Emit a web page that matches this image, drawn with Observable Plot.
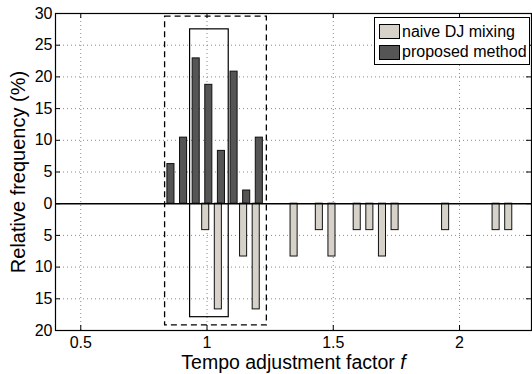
<!DOCTYPE html>
<html><head><meta charset="utf-8">
<script src="https://cdn.jsdelivr.net/npm/d3@7"></script>
<script src="https://cdn.jsdelivr.net/npm/@observablehq/plot@0.6"></script>
<style>
body{margin:0;background:#fff;}
#wrap{position:relative;width:532px;height:374px;font-family:"Liberation Sans",Arial,Helvetica,sans-serif;}
#legend{position:absolute;left:374px;top:17px;width:156px;height:48px;border:1px solid #000;background:#fff;box-sizing:border-box;font-size:16px;color:#000;}
.item{position:absolute;left:4px;height:17px;display:flex;align-items:center;white-space:nowrap;}
.sw{width:21px;height:15px;border:1px solid #000;box-sizing:border-box;margin-right:2px;}
</style></head>
<body><div id="wrap"></div>
<script>
// Data
const proposedF = [0.85, 0.90, 0.95, 1.00, 1.05, 1.10, 1.15, 1.20];
const proposedPct = [6.25, 10.42, 22.92, 18.75, 8.33, 20.83, 2.08, 10.42];
const naiveF = [1.00, 1.05, 1.15, 1.20, 1.35, 1.45, 1.50, 1.60, 1.65, 1.70, 1.75, 1.95, 2.15, 2.20];
const naivePct = [4.17, 16.67, 8.33, 16.67, 8.33, 4.17, 8.33, 4.17, 4.17, 8.33, 4.17, 4.17, 4.17, 4.17];
const xTicks = [0.5, 1, 1.5, 2];
const yTicks = [-20, -15, -10, -5, 0, 5, 10, 15, 20, 25, 30];
const yGrid = [-15, -10, -5, 5, 10, 15, 20, 25];
// annotation boxes: dashed outer, solid inner
const boxX1 = [0.834, 0.933];
const boxX2 = [1.237, 1.086];
const boxY1 = [-19.2, -17.9];
const boxY2 = [29.5, 27.5];
const boxDash = ["6,4", "none"];
const seriesNames = ["naive DJ mixing", "proposed method"];
const xLabel = "Tempo adjustment factor ";
const xLabelItalic = "f";
const yLabel = "Relative frequency (%)";

const proposed = proposedF.map((f, i) => ({f, v: proposedPct[i]}));
const naive = naiveF.map((f, i) => ({f, v: naivePct[i]}));
const boxes = boxX1.map((x1, i) => ({x1, x2: boxX2[i], y1: boxY1[i], y2: boxY2[i], dash: boxDash[i]}));
const hw = 0.014;
const frameW = 531 - 55, frameH = 330 - 13;
const fam = '"Liberation Sans", Arial, Helvetica, sans-serif';

const chart = Plot.plot({
  width: 532, height: 374,
  marginLeft: 55, marginRight: 1, marginTop: 13, marginBottom: 44,
  style: {fontFamily: fam, fontSize: "16px", background: "#fff", color: "#000"},
  x: {domain: [0.4, 2.285], axis: null},
  y: {domain: [-20, 30], axis: null},
  marks: [
    Plot.ruleY(yGrid, {y: d => d, stroke: "#8a8a8a", strokeDasharray: "1,3", strokeWidth: 1}),
    Plot.ruleX(xTicks, {x: d => d, stroke: "#8a8a8a", strokeDasharray: "1,3", strokeWidth: 1}),
    Plot.rect(proposed, {x1: d => d.f - hw, x2: d => d.f + hw, y1: 0, y2: "v", dx: 1.8, fill: "#555555", stroke: "#111", strokeWidth: 1}),
    Plot.rect(naive, {x1: d => d.f - hw, x2: d => d.f + hw, y1: 0, y2: d => -d.v, dx: -1.3, fill: "#d6d2c9", stroke: "#111", strokeWidth: 1}),
    Plot.ruleY([0], {y: d => d, stroke: "#000", strokeWidth: 1.6}),
    Plot.rect(boxes.filter(b => b.dash !== "none"), {x1: "x1", x2: "x2", y1: "y1", y2: "y2", fill: "none", stroke: "#000", strokeWidth: 1.3, strokeDasharray: "6,4"}),
    Plot.rect(boxes.filter(b => b.dash === "none"), {x1: "x1", x2: "x2", y1: "y1", y2: "y2", fill: "none", stroke: "#000", strokeWidth: 1.2}),
    Plot.frame({stroke: "#000", strokeWidth: 1.2}),
    // inward ticks
    Plot.tickY(yTicks, {y: d => d, insetRight: frameW - 5, stroke: "#000"}),
    Plot.tickY(yTicks, {y: d => d, insetLeft: frameW - 5, stroke: "#000"}),
    Plot.tickX(xTicks, {x: d => d, insetTop: frameH - 5, stroke: "#000"}),
    Plot.tickX(xTicks, {x: d => d, insetBottom: frameH - 5, stroke: "#000"}),
    Plot.axisY(yTicks, {anchor: "left", tickSize: 0, tickPadding: 3, tickFormat: d => String(Math.abs(d)), fontSize: 16}),
    Plot.axisX(xTicks, {anchor: "bottom", tickSize: 0, tickPadding: 6, tickFormat: d => String(d), fontSize: 16}),
    Plot.text([yLabel], {text: d => d, frameAnchor: "left", textAnchor: "middle", lineAnchor: "middle", dx: -37, rotate: -90, fontSize: 20}),
    Plot.text([xLabel], {text: d => d, frameAnchor: "bottom", textAnchor: "middle", lineAnchor: "middle", dy: 32.5, fontSize: 19.5})
  ]
});

d3.select(chart).selectAll("text").filter(function() { return this.textContent === xLabel; })
  .append("tspan").attr("font-style", "italic").text(xLabelItalic);

const wrap = document.getElementById("wrap");
wrap.appendChild(chart);
const legend = document.createElement("div");
legend.id = "legend";
const swatchFill = ["#d6d2c9", "#555555"];
seriesNames.forEach((name, i) => {
  const it = document.createElement("div");
  it.className = "item";
  it.style.top = (i === 0 ? 5 : 25.5) + "px";
  const sw = document.createElement("span");
  sw.className = "sw";
  sw.style.background = swatchFill[i];
  const tx = document.createElement("span");
  tx.textContent = name;
  it.appendChild(sw); it.appendChild(tx);
  legend.appendChild(it);
});
wrap.appendChild(legend);
</script>
</body></html>
